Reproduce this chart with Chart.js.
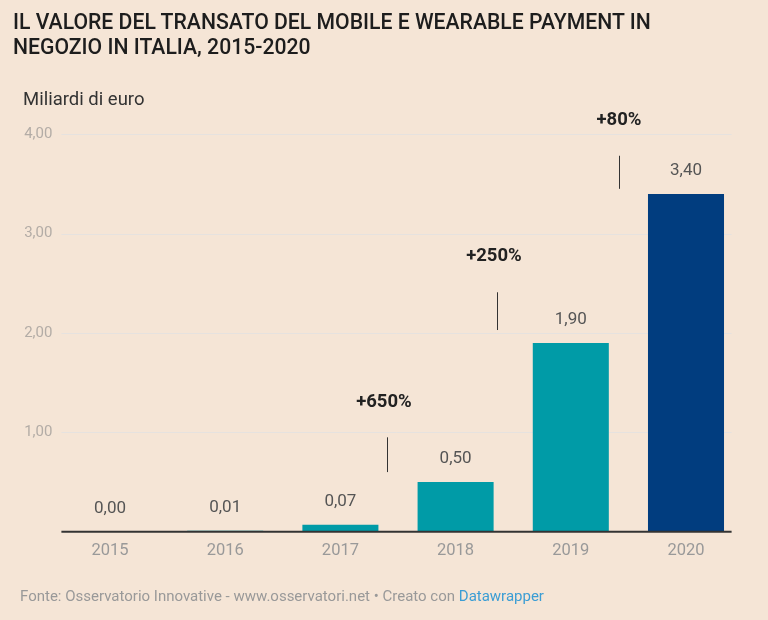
<!DOCTYPE html>
<html>
<head>
<meta charset="utf-8">
<script src="https://cdn.jsdelivr.net/npm/chart.js@4"></script>
<style>
  html, body { margin: 0; padding: 0; background: #f5e5d6; }
  #wrap { position: relative; width: 768px; height: 620px; overflow: hidden; font-family: Roboto, sans-serif; }
  #title { position: absolute; left: 13px; top: 9px; font-size: 21.2px; font-weight: 500; line-height: 25px; color: #1d1d1d; }
  #unit { position: absolute; left: 23px; top: 88px; font-size: 18.5px; color: #333; }
  #foot { position: absolute; left: 20px; top: 587px; font-size: 15px; color: #999; }
  #foot span { color: #3b9dd4; }
  #box { position: absolute; left: 0; top: 0; width: 768px; height: 620px; }
</style>
</head>
<body>
<div id="wrap">
  <div id="box"><canvas id="chart"></canvas></div>
  <div id="title">IL VALORE DEL TRANSATO DEL MOBILE E WEARABLE PAYMENT IN<br>NEGOZIO IN ITALIA, 2015-2020</div>
  <div id="unit">Miliardi di euro</div>
  <div id="foot">Fonte: Osservatorio Innovative - www.osservatori.net • Creato con <span>Datawrapper</span></div>
</div>
<script>
const years = ['2015', '2016', '2017', '2018', '2019', '2020'];
const valori = [0.00, 0.01, 0.07, 0.50, 1.90, 3.40];
const yTicks = [0, 1, 2, 3, 4];
const crescite = ['+650%', '+250%', '+80%'];

const colori = ['#009ba7', '#009ba7', '#009ba7', '#009ba7', '#009ba7', '#013d7f'];

function fmt(v) {
    return v.toFixed(2).replace('.', ',');
}

// punti delle note: indice categoria (frazionario) e valore
const note = [
    { tx: 2.378, ty: 1.30, lx: 2.402, y1: 0.95, y2: 0.60 },
    { tx: 3.333, ty: 2.775, lx: 3.357, y1: 2.41, y2: 2.03 },
    { tx: 4.418, ty: 4.144, lx: 4.421, y1: 3.784, y2: 3.451 }
];

function xAt(scale, f) {
    const i = Math.floor(f);
    const a = scale.getPixelForValue(i);
    const b = scale.getPixelForValue(i + 1);
    return a + (b - a) * (f - i);
}

const disegno = {
    id: 'disegno',
    beforeDatasetsDraw(chart) {
        const ctx = chart.ctx;
        const y = chart.scales.y;
        const left = chart.chartArea.left + 9;
        const right = chart.chartArea.right - 12;
        ctx.save();
        ctx.strokeStyle = '#e6e2df';
        ctx.lineWidth = 1;
        yTicks.forEach(t => {
            if (t === 0) return;
            const py = Math.round(y.getPixelForValue(t)) + 0.5;
            ctx.beginPath();
            ctx.moveTo(left, py);
            ctx.lineTo(right, py);
            ctx.stroke();
        });
        ctx.restore();
    },
    afterDatasetsDraw(chart) {
        const ctx = chart.ctx;
        const x = chart.scales.x;
        const y = chart.scales.y;
        const left = chart.chartArea.left + 9;
        const right = chart.chartArea.right - 12;
        ctx.save();
        // linea di base
        ctx.strokeStyle = '#333';
        ctx.lineWidth = 2;
        const by = y.getPixelForValue(0);
        ctx.beginPath();
        ctx.moveTo(left, by);
        ctx.lineTo(right, by);
        ctx.stroke();

        // etichette valori
        ctx.font = '17px Roboto';
        ctx.fillStyle = '#555';
        ctx.textAlign = 'center';
        ctx.textBaseline = 'middle';
        const meta = chart.getDatasetMeta(0);
        meta.data.forEach((bar, i) => {
            ctx.fillText(fmt(valori[i]), bar.x, bar.y - 23);
        });

        // note di crescita
        note.forEach((n, i) => {
            ctx.font = 'bold 18.5px Roboto';
            ctx.fillStyle = '#222';
            ctx.fillText(crescite[i], xAt(x, n.tx), y.getPixelForValue(n.ty));
            const lx = Math.round(xAt(x, n.lx)) + 0.5;
            ctx.strokeStyle = '#333';
            ctx.lineWidth = 1;
            ctx.beginPath();
            ctx.moveTo(lx, y.getPixelForValue(n.y1));
            ctx.lineTo(lx, y.getPixelForValue(n.y2));
            ctx.stroke();
        });
        ctx.restore();
    }
};

new Chart(document.getElementById('chart').getContext('2d'), {
    type: 'bar',
    data: {
        labels: years,
        datasets: [{
            data: valori,
            backgroundColor: colori,
            borderWidth: 0,
            barPercentage: 0.66,
            categoryPercentage: 1
        }]
    },
    options: {
        responsive: true,
        maintainAspectRatio: false,
        animation: false,
        devicePixelRatio: 1,
        layout: { padding: { left: 0, right: 24.4, top: 134.3, bottom: 50.5 } },
        plugins: { legend: { display: false }, tooltip: { enabled: false } },
        scales: {
            x: {
                offset: true,
                grid: { display: false, drawTicks: false },
                border: { display: false },
                ticks: {
                    color: '#999',
                    font: { family: 'Roboto', size: 16.5 },
                    padding: 9,
                    maxRotation: 0
                }
            },
            y: {
                min: 0,
                max: 4,
                afterFit(s) { s.width = 52.4; },
                afterBuildTicks(s) { s.ticks = yTicks.map(v => ({ value: v })); },
                grid: { display: false, drawTicks: false },
                border: { display: false },
                ticks: {
                    color: '#b3aca6',
                    font: { family: 'Roboto', size: 15 },
                    padding: 0,
                    callback: v => v === 0 ? '' : fmt(v)
                }
            }
        }
    },
    plugins: [disegno]
});
</script>
</body>
</html>
